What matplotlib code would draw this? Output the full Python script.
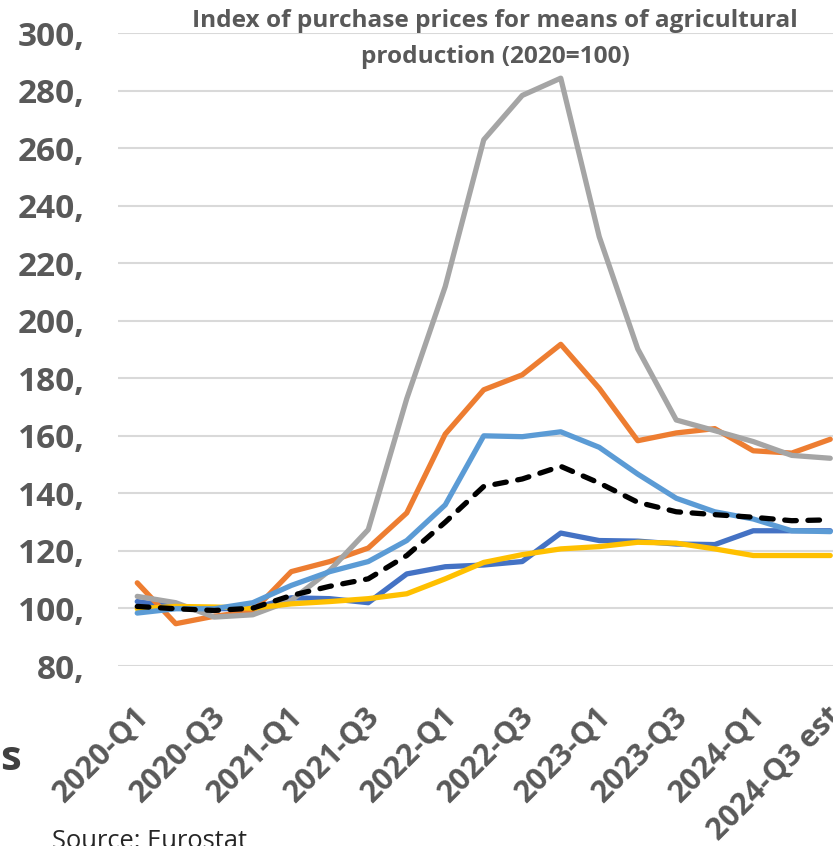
import matplotlib.pyplot as plt
from matplotlib.transforms import ScaledTranslation

# quarters 2020-Q1 .. 2024-Q3 (estimate)
quarters = ['2020-Q1', '2020-Q2', '2020-Q3', '2020-Q4',
            '2021-Q1', '2021-Q2', '2021-Q3', '2021-Q4',
            '2022-Q1', '2022-Q2', '2022-Q3', '2022-Q4',
            '2023-Q1', '2023-Q2', '2023-Q3', '2023-Q4',
            '2024-Q1', '2024-Q2', '2024-Q3 est']

series_dark_blue = [102.4, 100.5, 99.9, 100.0, 103.7, 103.4, 102.0, 112.0, 114.5,
                    115.1, 116.3, 126.2, 123.6, 123.4, 122.4, 122.2, 127.0, 127.0, 127.0]
series_orange = [108.9, 94.7, 97.3, 99.0, 112.8, 116.3, 121.0, 133.2, 160.6,
                 176.0, 181.2, 191.8, 176.5, 158.3, 161.0, 162.5, 154.8, 154.0, 158.8]
series_gray = [104.2, 102.0, 97.0, 97.8, 102.8, 113.2, 127.4, 172.9, 211.9,
               262.9, 278.3, 284.3, 229.2, 190.2, 165.5, 161.8, 158.0, 153.2, 152.2]
series_yellow = [99.9, 100.7, 100.5, 100.1, 101.6, 102.4, 103.4, 105.1, 110.3,
                 116.0, 118.7, 120.7, 121.5, 123.0, 122.7, 120.7, 118.4, 118.4, 118.4]
series_light_blue = [98.4, 99.9, 99.9, 102.0, 108.0, 112.8, 116.3, 123.6, 136.0,
                     160.0, 159.7, 161.4, 156.0, 146.7, 138.3, 133.6, 131.1, 127.0, 126.7]
series_total = [100.7, 99.9, 99.3, 100.1, 104.5, 107.7, 110.3, 118.4, 130.0,
                142.4, 145.0, 149.4, 143.6, 136.9, 133.6, 132.6, 131.7, 130.5, 130.8]

label_gray = '#595959'

fig = plt.figure(figsize=(8.33, 8.46), dpi=100)
ax = fig.add_axes([118 / 833, 1 - 666 / 846, 731.5 / 833, 633 / 846])

x = range(len(quarters))
lw = 3.8
ax.plot(x, series_dark_blue, color='#4472C4', lw=lw, solid_capstyle='round')
ax.plot(x, series_orange, color='#ED7D31', lw=lw, solid_capstyle='round')
ax.plot(x, series_gray, color='#A5A5A5', lw=lw, solid_capstyle='round')
ax.plot(x, series_yellow, color='#FFC000', lw=lw, solid_capstyle='round')
ax.plot(x, series_light_blue, color='#5B9BD5', lw=lw, solid_capstyle='round')
ax.plot(x, series_total, color='black', lw=lw, ls=(0, (2.2, 2.2)), dash_capstyle='round')

ax.set_xlim(-0.5, len(quarters) - 0.5)
ax.set_ylim(80, 300)
yticks = list(range(80, 301, 20))
ax.set_yticks(yticks)
ax.set_yticklabels([f'{v},' for v in yticks], fontsize=24, fontweight='bold',
                   color=label_gray, family='Open Sans')
ax.grid(axis='y', color='#D9D9D9', lw=1.5)
ax.set_axisbelow(True)
for s in ax.spines.values():
    s.set_visible(False)
ax.tick_params(axis='y', length=0, pad=24)

ax.set_xticks(list(x)[::2])
ax.set_xticklabels(quarters[::2], rotation=45, ha='right', va='center',
                   rotation_mode='anchor', fontsize=22, fontweight='bold',
                   color=label_gray, family='Open Sans')
ax.tick_params(axis='x', length=0, pad=33)
shift = ScaledTranslation(7 / 100, 0, fig.dpi_scale_trans)
for lab in ax.get_xticklabels():
    lab.set_transform(lab.get_transform() + shift)

fig.text(495 / 833, 1 - 9 / 846,
         'Index of purchase prices for means of agricultural\nproduction (2020=100)',
         ha='center', va='top', fontsize=17.6, fontweight='bold', color=label_gray,
         family='Open Sans', linespacing=1.65)

fig.text(21 / 833, 1 - 770 / 846, 's', ha='right', va='baseline', fontsize=30,
         fontweight='bold', color='#404040', family='Open Sans')
fig.text(52 / 833, 1 - 848 / 846, 'Source: Eurostat', ha='left', va='baseline',
         fontsize=18.4, color='#262626', family='Open Sans')

fig.savefig('out.png', dpi=100)
